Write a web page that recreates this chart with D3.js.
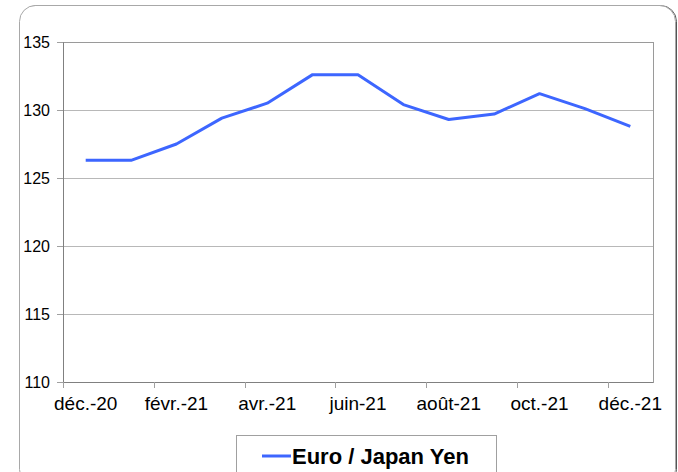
<!DOCTYPE html>
<html lang="fr">
<head>
<meta charset="UTF-8">
<title>Euro / Japan Yen</title>
<script src="https://d3js.org/d3.v7.min.js"></script>
<style>
  body { margin: 0; background: #fff; }
  svg { display: block; font-family: "Liberation Sans", Arial, sans-serif; }
</style>
</head>
<body>
<svg width="678" height="472"></svg>
<script>
// data
const months = ["déc.-20", "janv.-21", "févr.-21", "mars-21", "avr.-21", "mai-21", "juin-21",
                "juil.-21", "août-21", "sept.-21", "oct.-21", "nov.-21", "déc.-21"];
const eurJpy = [126.3, 126.3, 127.5, 129.4, 130.5, 132.6, 132.6, 130.4, 129.3, 129.7, 131.2, 130.1, 128.8];
const yTicks = [110, 115, 120, 125, 130, 135];
const seriesName = "Euro / Japan Yen";

const svg = d3.select("svg");
const margin = {left: 63, top: 42, right: 25, bottom: 90};
const width = 678, height = 472;
const plotW = width - margin.left - margin.right;
const plotH = height - margin.top - margin.bottom;

// outer frame with rounded corners (slight shadow on the right)
svg.append("rect")
    .attr("x", 20.5).attr("y", 5.5)
    .attr("width", 656).attr("height", 480)
    .attr("rx", 16)
    .attr("fill", "none")
    .attr("stroke", "#555");
svg.append("rect")
    .attr("x", 19.5).attr("y", 5.5)
    .attr("width", 656).attr("height", 480)
    .attr("rx", 16)
    .attr("fill", "#fff")
    .attr("stroke", "#a8a8a8");

const g = svg.append("g").attr("transform", `translate(${margin.left},${margin.top})`);

const x = d3.scaleBand().domain(months).range([0, plotW]);
const y = d3.scaleLinear().domain([110, 135]).range([plotH, 0]);

// gridlines
g.selectAll(".grid")
    .data(yTicks.filter(d => d > 110 && d < 135))
    .enter().append("line")
    .attr("x1", 0).attr("x2", plotW)
    .attr("y1", d => Math.round(y(d)) + 0.5).attr("y2", d => Math.round(y(d)) + 0.5)
    .attr("stroke", "#b8b8b8");

// plot border
g.append("rect")
    .attr("x", 0.5).attr("y", 0.5)
    .attr("width", plotW).attr("height", plotH)
    .attr("fill", "none")
    .attr("stroke", "#9a9a9a");

// y axis
const yAxis = g.append("g")
    .call(d3.axisLeft(y).tickValues(yTicks).tickSize(6).tickPadding(7));
yAxis.select(".domain").attr("stroke", "#808080");
yAxis.selectAll(".tick line").attr("stroke", "#a0a0a0");
yAxis.selectAll("text").attr("font-size", 16).attr("fill", "#000")
    .style("font-family", "Liberation Sans, Arial, sans-serif");

// x axis: tick marks at category boundaries every other month, labels at centers
const xAxisG = g.append("g").attr("transform", `translate(0,${plotH})`);
xAxisG.append("line")
    .attr("x1", 0).attr("x2", plotW).attr("y1", 0.5).attr("y2", 0.5)
    .attr("stroke", "#808080");
xAxisG.selectAll(".xtick")
    .data(months.filter((d, i) => i % 2 === 0))
    .enter().append("line")
    .attr("x1", d => Math.round(x(d)) + 0.5).attr("x2", d => Math.round(x(d)) + 0.5)
    .attr("y1", 0).attr("y2", 6)
    .attr("stroke", "#a0a0a0");
xAxisG.selectAll(".xlabel")
    .data(months.filter((d, i) => i % 2 === 0))
    .enter().append("text")
    .attr("x", d => x(d) + x.bandwidth() / 2)
    .attr("y", 28)
    .attr("text-anchor", "middle")
    .attr("font-size", 19)
    .text(d => d);

// line
const line = d3.line()
    .x((d, i) => x(months[i]) + x.bandwidth() / 2)
    .y(d => y(d));
g.append("path")
    .datum(eurJpy)
    .attr("d", line)
    .attr("fill", "none")
    .attr("stroke", "#3d66ff")
    .attr("stroke-width", 3)
    .attr("stroke-linejoin", "round");

// legend
const lg = svg.append("g");
lg.append("rect")
    .attr("x", 236.5).attr("y", 435.5)
    .attr("width", 260).attr("height", 60)
    .attr("fill", "#fff")
    .attr("stroke", "#a0a0a0");
lg.append("line")
    .attr("x1", 262).attr("x2", 291).attr("y1", 456).attr("y2", 456)
    .attr("stroke", "#3d66ff").attr("stroke-width", 3);
lg.append("text")
    .attr("x", 292).attr("y", 464)
    .attr("font-size", 22).attr("font-weight", "bold")
    .text(seriesName);
</script>
</body>
</html>
